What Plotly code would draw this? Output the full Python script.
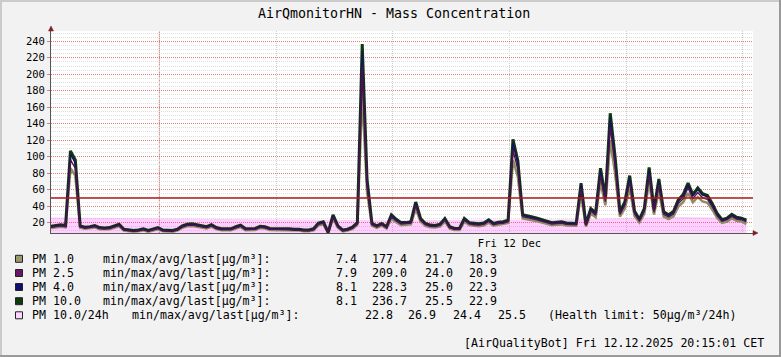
import plotly.graph_objects as go

# ---------------- data ----------------
step_h = 0.25  # 15-minute samples
pm10 = [15.5, 16.5, 17.5, 16.5, 107, 96, 16, 14.5, 15, 16.5,
        14, 13.5, 14, 16, 18, 12, 11, 10.5, 11, 12.5,
        10.5, 12, 14, 11, 10.5, 10.5, 12, 16, 18, 18.5,
        17.5, 16, 15, 17.5, 14, 12.5, 12.5, 12.5, 15, 17,
        12.5, 12.5, 13, 15.5, 15, 13, 13, 13, 13, 12.5,
        12, 12, 11, 11, 12.5, 19.5, 21, 8.1, 29.5, 16,
        11, 12, 14.5, 20, 236.7, 72, 19, 16, 19, 15,
        29.5, 24, 20, 20, 21, 45, 25, 19, 17, 16.5,
        18, 25, 15, 13, 13, 25, 20, 19, 18.5, 19.5,
        23.5, 19, 20.5, 21, 23, 121, 95, 29.5, 28.5, 27,
        25.5, 23.5, 21.5, 20, 20.5, 21, 19.5, 19, 19, 68,
        18, 37, 32, 86, 50, 152.7, 100, 33, 45, 77,
        34, 24, 37, 87, 36, 73, 33, 29.5, 33.5, 47.6,
        54, 68, 54, 62, 55, 53, 43, 31, 23.5, 25.5,
        30, 26.5, 25.5, 22.9]
pm4 = [15.1, 16.1, 17.0, 16.0, 103, 92, 15.6, 14.1, 14.6, 16.0,
       13.6, 13.1, 13.6, 15.5, 17.4, 11.7, 10.7, 10.2, 10.7, 12.1,
       10.2, 11.7, 13.6, 10.7, 10.2, 10.2, 11.7, 15.5, 17.4, 17.9,
       17.0, 15.5, 14.6, 17.0, 13.6, 12.1, 12.1, 12.1, 14.6, 16.5,
       12.1, 12.1, 12.6, 15.0, 14.6, 12.6, 12.6, 12.6, 12.6, 12.1,
       11.7, 11.7, 10.7, 10.7, 12.1, 18.9, 20.3, 8.1, 28.6, 15.5,
       10.7, 11.7, 14.1, 19.4, 228.3, 69.5, 18.4, 15.5, 18.4, 14.6,
       28.6, 23.3, 19.4, 19.4, 20.3, 43.6, 24.2, 18.4, 16.5, 16.0,
       17.4, 24.2, 14.6, 12.6, 12.6, 24.2, 19.4, 18.4, 17.9, 18.9,
       22.8, 18.4, 19.9, 20.3, 22.3, 117, 92, 28.6, 27.6, 26.2,
       24.7, 22.8, 20.8, 19.4, 19.9, 20.3, 18.9, 18.4, 18.4, 65.8,
       17.4, 35.8, 31.0, 83.2, 48.4, 147.8, 96.8, 32.0, 43.6, 74.5,
       32.9, 23.3, 35.8, 84.2, 34.8, 70.6, 32.0, 28.6, 32.4, 46.1,
       52.3, 65.8, 52.3, 60.0, 53.2, 51.3, 41.6, 30.0, 22.8, 24.7,
       29.0, 25.7, 24.7, 22.3]
pm25 = [14.3, 15.2, 16.1, 15.2, 96, 86, 14.7, 13.3, 13.8, 15.2,
        12.9, 12.4, 12.9, 14.7, 16.6, 11.0, 10.1, 9.7, 10.1, 11.5,
        9.7, 11.0, 12.9, 10.1, 9.7, 9.7, 11.0, 14.7, 16.6, 17.0,
        16.1, 14.7, 13.8, 16.1, 12.9, 11.5, 11.5, 11.5, 13.8, 15.6,
        11.5, 11.5, 12.0, 14.3, 13.8, 12.0, 12.0, 12.0, 12.0, 11.5,
        11.0, 11.0, 10.1, 10.1, 11.5, 17.9, 19.3, 7.9, 27.0, 14.7,
        10.1, 11.0, 13.3, 18.4, 209.0, 64.4, 17.5, 14.7, 17.5, 13.8,
        27.0, 22.0, 18.4, 18.4, 19.3, 40.8, 23.0, 17.5, 15.6, 15.2,
        16.6, 23.0, 13.8, 12.0, 12.0, 23.0, 18.4, 17.5, 17.0, 17.9,
        21.6, 17.5, 18.9, 19.3, 21.2, 108, 85, 27.1, 26.2, 24.8,
        23.5, 21.6, 19.8, 18.4, 18.9, 19.3, 17.9, 17.5, 17.5, 61.2,
        16.6, 33.7, 29.1, 77.4, 45.5, 136.0, 90.0, 30.0, 41.0, 69.3,
        30.9, 22.1, 33.7, 78.3, 32.8, 65.7, 30.0, 26.9, 30.5, 43.3,
        49.1, 61.9, 49.1, 56.4, 50.1, 48.2, 39.1, 28.2, 21.6, 23.5,
        27.6, 24.4, 23.5, 20.9]
pm1 = [13.4, 14.2, 15.0, 14.2, 86, 77, 13.8, 12.5, 12.9, 14.2,
       12.1, 11.7, 12.1, 13.8, 15.5, 10.4, 9.5, 9.1, 9.5, 10.8,
       9.1, 10.4, 12.1, 9.5, 9.1, 9.1, 10.4, 13.8, 15.5, 15.9,
       15.0, 13.8, 12.9, 15.0, 12.1, 10.8, 10.8, 10.8, 12.9, 14.6,
       10.8, 10.8, 11.2, 13.4, 12.9, 11.2, 11.2, 11.2, 11.2, 10.8,
       10.4, 10.4, 9.5, 9.5, 10.8, 16.8, 18.1, 7.4, 25.1, 13.8,
       9.5, 10.4, 12.5, 17.2, 177.4, 57.6, 16.3, 13.8, 16.3, 12.9,
       25.1, 20.4, 17.0, 17.0, 17.9, 37.1, 21.3, 16.2, 14.5, 14.0,
       15.3, 21.3, 12.8, 11.1, 11.1, 21.3, 17.0, 16.2, 15.7, 16.6,
       20.0, 16.2, 17.4, 17.9, 19.6, 96, 76, 25.1, 24.2, 23.0,
       21.7, 20.0, 18.3, 17.0, 17.4, 17.9, 16.6, 16.2, 16.2, 55.1,
       15.3, 30.7, 26.6, 69.7, 41.0, 120.0, 80.0, 27.4, 37.4, 62.4,
       28.2, 20.2, 30.7, 70.5, 29.9, 59.1, 27.4, 24.5, 27.8, 39.5,
       44.8, 55.8, 44.8, 51.1, 45.7, 44.0, 35.7, 25.7, 19.7, 21.4,
       25.2, 22.3, 21.4, 18.3]
hours = [i * step_h for i in range(len(pm10))]

avg_hours = [0, 2.5, 5, 7.5, 10, 12.5, 15, 17.5, 20, 22.5, 25, 27.5, 30, 32.5, 35.75]
pm10_24h = [26.3, 25.8, 25.0, 24.3, 23.8, 23.3, 22.9, 22.8, 23.3, 23.4, 23.6, 24.0, 26.0, 26.9, 25.5]

health_limit = 50
x_label_hour = 23.57
x_label_text = "Fri 12 Dec"
x_grid_start = 5.57
x_end = 36.09
y_min, y_max = 7.4, 252.5

names = ["PM 1.0", "PM 2.5", "PM 4.0", "PM 10.0"]
stat_min = ["7.4", "7.9", "8.1", "8.1"]
stat_max = ["177.4", "209.0", "228.3", "236.7"]
stat_avg = ["21.7", "24.0", "25.0", "25.5"]
stat_last = ["18.3", "20.9", "22.3", "22.9"]
avg_name = "PM 10.0/24h"
avg_stats = ["22.8", "26.9", "24.4", "25.5"]
unit_label = "min/max/avg/last[µg/m³]:"
health_text = "(Health limit: 50µg/m³/24h)"
title_text = "AirQmonitorHN - Mass Concentration"
footer_text = "[AirQualityBot] Fri 12.12.2025 20:15:01 CET"

swatch_colors = ["#9a9a6e", "#6a146a", "#10106e", "#0e3a0e"]
avg_color = "#ffd6ff"

# ---------------- layout geometry ----------------
W, H = 781, 357
L, R, T, B = 51, 753, 31, 233
FONT = "DejaVu Sans Mono"


def px2x(px):
    return (px - L) / (R - L)


def py2y(py):
    return (B - py) / (B - T)


fig = go.Figure()
fig.add_trace(go.Scatter(x=avg_hours, y=pm10_24h, mode="lines", fill="tozeroy",
                         line=dict(width=0, color="rgba(255,0,255,0.19)"),
                         fillcolor="rgba(255,0,255,0.19)", hoverinfo="skip"))
# drawing order / style chosen to mimic the blended look of the original lines
line_specs = [(pm1, "#8e8e66", 2.6), (pm10, "#0f380f", 3.0),
              (pm4, "#14145e", 1.4), (pm25, "#4e124e", 1.4)]
for series, col, lw in line_specs:
    fig.add_trace(go.Scatter(x=hours, y=series, mode="lines",
                             line=dict(width=lw, color=col), hoverinfo="skip"))

shapes = []
# major vertical grid line
shapes.append(dict(type="line", xref="x", yref="paper", x0=x_grid_start, x1=x_grid_start,
                   y0=0, y1=1, layer="below",
                   line=dict(color="rgba(222,80,80,0.8)", width=1, dash="1px,1px")))
# health limit rule
shapes.append(dict(type="line", xref="paper", yref="y", x0=0, x1=1, y0=health_limit, y1=health_limit,
                   line=dict(color="#b41414", width=1.5)))
# arrows
shapes.append(dict(type="path", xref="paper", yref="paper",
                   path=f"M {px2x(48.5)} {py2y(31)} L {px2x(53.5)} {py2y(31)} L {px2x(51)} {py2y(26)} Z",
                   fillcolor="#7f1f1f", line=dict(color="#7f1f1f", width=0.5)))
shapes.append(dict(type="path", xref="paper", yref="paper",
                   path=f"M {px2x(753)} {py2y(230.5)} L {px2x(753)} {py2y(235.5)} L {px2x(758)} {py2y(233)} Z",
                   fillcolor="#7f1f1f", line=dict(color="#7f1f1f", width=0.5)))
# frame (shade)
shapes.append(dict(type="line", xref="paper", yref="paper", x0=px2x(0), x1=px2x(781),
                   y0=py2y(1), y1=py2y(1), line=dict(color="#cbcbcb", width=2)))
shapes.append(dict(type="line", xref="paper", yref="paper", x0=px2x(1), x1=px2x(1),
                   y0=py2y(0), y1=py2y(357), line=dict(color="#cbcbcb", width=2)))
shapes.append(dict(type="line", xref="paper", yref="paper", x0=px2x(0), x1=px2x(781),
                   y0=py2y(356), y1=py2y(356), line=dict(color="#9a9a9a", width=2)))
shapes.append(dict(type="line", xref="paper", yref="paper", x0=px2x(780), x1=px2x(780),
                   y0=py2y(0), y1=py2y(357), line=dict(color="#9a9a9a", width=2)))

annotations = []


def txt(text, px, py, size=11.6, anchor="left"):
    annotations.append(dict(text=text, xref="paper", yref="paper", x=px2x(px), y=py2y(py),
                            xanchor=anchor, yanchor="middle", showarrow=False,
                            font=dict(family=FONT, size=size, color="#000000")))


txt(title_text, 394, 14, size=13.3, anchor="center")

row_y = [258.8, 273.0, 287.0, 301.2]
for k in range(4):
    yy = row_y[k]
    shapes.append(dict(type="rect", xref="paper", yref="paper",
                       x0=px2x(15.5), x1=px2x(22.5), y0=py2y(yy - 3.5), y1=py2y(yy + 3.5),
                       fillcolor=swatch_colors[k], line=dict(color="#222222", width=1)))
    txt(names[k], 29.5, yy)
    txt(unit_label, 101, yy)
    txt(stat_min[k], 334, yy)
    txt(stat_max[k], 370, yy)
    txt(stat_avg[k], 422.5, yy)
    txt(stat_last[k], 466.5, yy)

yy = 315.3
shapes.append(dict(type="rect", xref="paper", yref="paper",
                   x0=px2x(15.5), x1=px2x(22.5), y0=py2y(yy - 3.5), y1=py2y(yy + 3.5),
                   fillcolor=avg_color, line=dict(color="#222222", width=1)))
txt(avg_name, 29.5, yy)
txt(unit_label, 129.8, yy)
txt(avg_stats[0], 363, yy)
txt(avg_stats[1], 406, yy)
txt(avg_stats[2], 451, yy)
txt(avg_stats[3], 495.5, yy)
txt(health_text, 546, yy)

txt(footer_text, 766, 342.7, anchor="right")

fig.update_layout(
    width=W, height=H,
    margin=dict(l=L, r=W - R, t=T, b=H - B, pad=0, autoexpand=False),
    paper_bgcolor="#f2f2f2", plot_bgcolor="#ffffff",
    showlegend=False, hovermode=False,
    shapes=shapes, annotations=annotations,
    font=dict(family=FONT, size=10.5, color="#000000"),
    xaxis=dict(range=[0, x_end], tickmode="array", tickvals=[x_label_hour], ticktext=[x_label_text],
               showgrid=False, ticks="", zeroline=False, showline=True, linecolor="#555555", linewidth=1,
               tickfont=dict(family=FONT, size=10.5),
               minor=dict(tick0=x_grid_start, dtick=6, showgrid=True, gridcolor="#cfcfcf",
                          griddash="1px,1px", gridwidth=1, ticks="")),
    yaxis=dict(range=[y_min, y_max], tick0=0, dtick=20, showgrid=True,
               gridcolor="rgba(222,80,80,0.75)", griddash="1px,1px", gridwidth=1,
               zeroline=False, showline=True, linecolor="#555555", linewidth=1,
               ticks="outside", ticklen=3, tickcolor="rgba(222,80,80,0.75)",
               tickfont=dict(family=FONT, size=10.5),
               minor=dict(dtick=5, tick0=0, showgrid=True, gridcolor="#dedede",
                          griddash="1px,1px", gridwidth=1, ticks="")),
)

fig.write_html("out.html", config={"displayModeBar": False, "staticPlot": True},
               post_script="document.body.style.margin='0';document.body.style.padding='0';"
                           "document.documentElement.style.overflow='hidden';")
